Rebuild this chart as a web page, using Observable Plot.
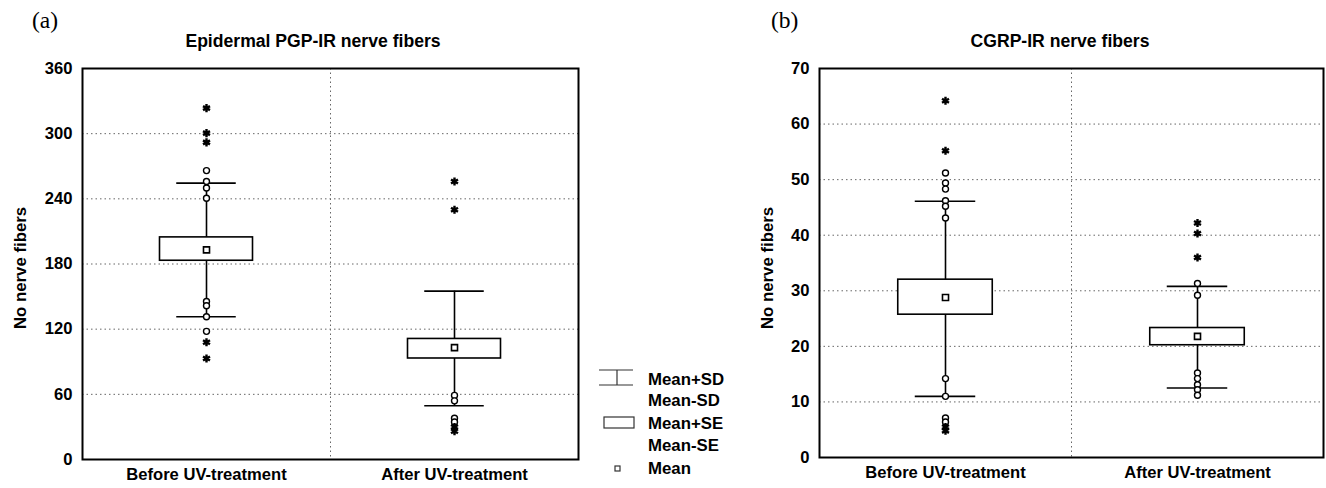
<!DOCTYPE html>
<html><head><meta charset="utf-8">
<script src="https://cdn.jsdelivr.net/npm/d3@7"></script>
<script src="https://cdn.jsdelivr.net/npm/@observablehq/plot@0.6"></script>
<style>
body{margin:0;background:#fff;}
#wrap{position:relative;width:1326px;height:488px;overflow:hidden;background:#fff;}
.panel{position:absolute;top:0;}
#overlay{position:absolute;left:0;top:0;pointer-events:none;}
</style></head><body>
<div id="wrap">
  <div id="pa" class="panel" style="left:0px"></div>
  <div id="pb" class="panel" style="left:740px"></div>
  <svg id="overlay" width="1326" height="488" font-family="'Liberation Sans', Arial, sans-serif">
    <text x="32" y="28" font-family="'Liberation Serif','Times New Roman',serif" font-size="23.5">(a)</text>
    <text x="771" y="28" font-family="'Liberation Serif','Times New Roman',serif" font-size="23.5">(b)</text>
    <text id="titleA" x="313" y="47" text-anchor="middle" font-weight="bold" font-size="17.6"></text>
    <text id="titleB" x="1060" y="47" text-anchor="middle" font-weight="bold" font-size="17.6"></text>
    <text class="ylab" transform="translate(26,268) rotate(-90)" text-anchor="middle" font-weight="bold" font-size="16.8"></text>
    <text class="ylab" transform="translate(773,268) rotate(-90)" text-anchor="middle" font-weight="bold" font-size="16.8"></text>
    <g id="legend" stroke="#333" stroke-width="1.2" fill="none">
      <line x1="599" y1="370" x2="633" y2="370"/>
      <line x1="599" y1="385" x2="633" y2="385"/>
      <line x1="617" y1="370" x2="617" y2="385"/>
      <rect x="604" y="417" width="30" height="11" fill="white"/>
      <rect x="615" y="466" width="5" height="5" fill="white"/>
    </g>
    <g id="legendText" font-weight="bold" font-size="16.8" fill="black"></g>
  </svg>
</div>
<script>
// ---- data ----
const categories = ["Before UV-treatment", "After UV-treatment"];
const titleA = "Epidermal PGP-IR nerve fibers";
const titleB = "CGRP-IR nerve fibers";
const yLabel = "No nerve fibers";
const legendLabels = ["Mean+SD", "Mean-SD", "Mean+SE", "Mean-SE", "Mean"];

// Panel (a)
const yTicksA = [0, 60, 120, 180, 240, 300, 360];
const meanA = [193, 103];
const seLowA = [183, 93];
const seHighA = [204.5, 111];
const sdLowA = [131.5, 49.5];
const sdHighA = [254.5, 155];
const circlesBeforeA = [266, 256, 250, 240.5, 145.5, 141.5, 131.5, 118];
const starsBeforeA = [323.5, 300.5, 292, 108, 93];
const circlesAfterA = [59, 54, 38, 34.5];
const starsAfterA = [256, 230, 30, 26];

// Panel (b)
const yTicksB = [0, 10, 20, 30, 40, 50, 60, 70];
const meanB = [28.8, 21.8];
const seLowB = [25.7, 20.2];
const seHighB = [32.0, 23.3];
const sdLowB = [11.0, 12.5];
const sdHighB = [46.1, 30.8];
const circlesBeforeB = [51.2, 49.4, 48.3, 46.2, 45.2, 43.1, 14.2, 11.0, 7.1, 6.4];
const starsBeforeB = [64.2, 55.2, 5.5, 4.8];
const circlesAfterB = [31.3, 29.2, 15.2, 14.2, 13.1, 12.2, 11.2];
const starsAfterB = [42.2, 40.3, 36.0];

// ---- drawing ----
function panel({width, ml, mr, mb, ticks, mean, seLow, seHigh, sdLow, sdHigh, circles, stars}) {
  const rows = categories.map((c, i) => ({c, mean: mean[i], seLow: seLow[i], seHigh: seHigh[i], sdLow: sdLow[i], sdHigh: sdHigh[i]}));
  const circ = categories.flatMap((c, i) => circles[i].map(v => ({c, v})));
  const st = categories.flatMap((c, i) => stars[i].map(v => ({c, v})));
  const bw = (width - ml - mr) / categories.length;
  const boxInset = bw * (1 - 0.375) / 2;
  const capInset = bw * (1 - 0.24) / 2;
  const grid = {stroke: "#666", strokeDasharray: "1.5,3", strokeWidth: 1};
  const ink = {stroke: "black", strokeWidth: 1.6};
  return Plot.plot({
    width, height: 488,
    marginLeft: ml, marginRight: mr, marginTop: 68, marginBottom: mb,
    style: {fontFamily: "'Liberation Sans', Arial, sans-serif", fontSize: "16.6px", fontWeight: "bold", background: "white", color: "black"},
    x: {domain: categories, padding: 0, tickSize: 0, tickPadding: 9, label: null},
    y: {domain: [ticks[0], ticks[ticks.length - 1]], ticks, tickSize: 0, tickPadding: 10, label: null},
    marks: [
      Plot.ruleY(ticks.slice(1, -1), grid),
      Plot.ruleX(categories.slice(0, 1), {...grid, dx: bw / 2}),
      Plot.ruleX(rows, {x: "c", y1: "sdLow", y2: "sdHigh", ...ink}),
      Plot.tickY(rows, {x: "c", y: "sdHigh", insetLeft: capInset, insetRight: capInset, ...ink}),
      Plot.tickY(rows, {x: "c", y: "sdLow", insetLeft: capInset, insetRight: capInset, ...ink}),
      Plot.barY(rows, {x: "c", y1: "seLow", y2: "seHigh", insetLeft: boxInset, insetRight: boxInset, fill: "white", ...ink}),
      Plot.dot(rows, {x: "c", y: "mean", symbol: "square", r: 3.4, fill: "white", stroke: "black", strokeWidth: 1.6}),
      Plot.dot(circ, {x: "c", y: "v", r: 3, fill: "white", stroke: "black", strokeWidth: 1.4}),
      Plot.dot(st, {x: "c", y: "v", symbol: "asterisk", r: 3.8, stroke: "black", strokeWidth: 2.4}),
      Plot.frame({stroke: "black", strokeWidth: 2})
    ]
  });
}

document.getElementById("pa").append(panel({
  width: 600, ml: 82, mr: 22, mb: 29, ticks: yTicksA,
  mean: meanA, seLow: seLowA, seHigh: seHighA, sdLow: sdLowA, sdHigh: sdHighA,
  circles: [circlesBeforeA, circlesAfterA], stars: [starsBeforeA, starsAfterA]
}));
document.getElementById("pb").append(panel({
  width: 586, ml: 79, mr: 3, mb: 31, ticks: yTicksB,
  mean: meanB, seLow: seLowB, seHigh: seHighB, sdLow: sdLowB, sdHigh: sdHighB,
  circles: [circlesBeforeB, circlesAfterB], stars: [starsBeforeB, starsAfterB]
}));

document.getElementById("titleA").textContent = titleA;
document.getElementById("titleB").textContent = titleB;
document.querySelectorAll(".ylab").forEach(t => t.textContent = yLabel);
const lt = document.getElementById("legendText");
const legendY = [379, 400, 423, 445, 468];
legendLabels.forEach((s, i) => {
  const t = document.createElementNS("http://www.w3.org/2000/svg", "text");
  t.setAttribute("x", 648);
  t.setAttribute("y", legendY[i]);
  t.setAttribute("dy", "0.35em");
  t.textContent = s;
  lt.append(t);
});
</script>
</body></html>
